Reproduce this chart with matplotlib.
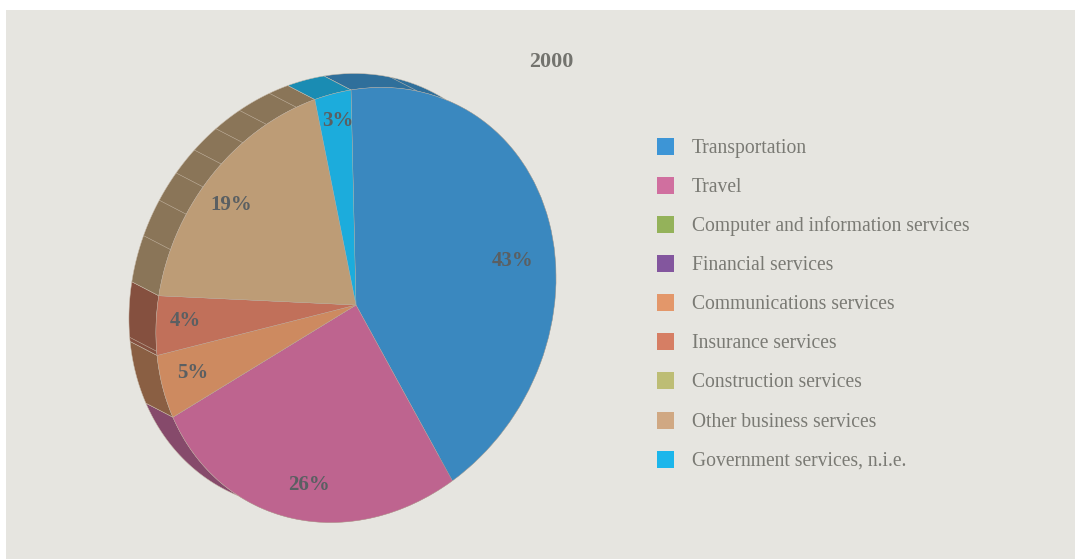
import numpy as np
import matplotlib
matplotlib.use('Agg')
import matplotlib.pyplot as plt
from matplotlib.patches import Rectangle, Polygon
from matplotlib.transforms import Affine2D

categories = ['Transportation', 'Travel', 'Computer and information services',
              'Financial services', 'Communications services', 'Insurance services',
              'Construction services', 'Other business services',
              'Government services, n.i.e.']
values = [42.4, 26.4, 0, 0, 4.9, 4.4, 0, 19.0, 2.9]
pct_labels = ['43%', '26%', '', '', '5%', '4%', '', '19%', '3%']
label_pos = [(513, 259), (309, 484), None, None, (193, 372), (185, 320), None, (231, 204), (338, 119)]

top_colors = ['#3A88BF', '#BE648F', '#86A052', '#75508E', '#CD8A60', '#C1705A', '#AAAA6A', '#BD9C76', '#1CACDC']
wall_colors = ['#2F6F9B', '#864A6B', '#5F7038', '#523864', '#8A5F43', '#85503F', '#777749', '#8A7558', '#1A8CB3']
legend_colors = ['#3D95D6', '#D06F9F', '#94B25A', '#83569E', '#E3976A', '#D67E64', '#BDBD75', '#D0A883', '#1CB6EB']
# extra seams in the side wall, as fractions of each slice
wall_seams = [[0.127], [], [], [], [], [0.07], [], [0.18, 0.325, 0.445, 0.555, 0.67, 0.785, 0.92], []]

plt.rcParams['font.family'] = ['Liberation Serif', 'DejaVu Serif']

fig = plt.figure(figsize=(10.75, 5.59), dpi=100, facecolor='white')
ax = fig.add_axes([0, 0, 1, 1])

# tilted pie: unit circle -> pixel coordinates
cx, cy = 356, 305
a, b, c, d = 200, -5, -33, -215
dx, dy = -27, -14
tilt = Affine2D(np.array([[a, b, cx], [c, d, cy], [0, 0, 1.0]]))


def rim(theta):
    return tilt.transform(np.column_stack([np.sin(theta), np.cos(theta)]))


wedges, _ = ax.pie(values, colors=top_colors, startangle=90, counterclock=False,
                   wedgeprops=dict(edgecolor='#B9A99A', linewidth=0.25))
ax.set_aspect('auto')
ax.set_xlim(0, 1075)
ax.set_ylim(559, 0)
ax.set_zorder(1)
ax.axis('off')

ax.add_patch(Rectangle((6, 10), 1069, 549, facecolor='#E6E5E0', edgecolor='none', zorder=0))

for w in wedges:
    w.set_transform(tilt + ax.transData)
    w.set_zorder(3)

# side wall behind the top face
edges = np.cumsum([0] + values) / 100 * 2 * np.pi
for i, v in enumerate(values):
    if v == 0:
        continue
    t = np.linspace(edges[i], edges[i + 1], 80)
    pts = rim(t)
    ax.add_patch(Polygon(np.vstack([pts, pts[::-1] + [dx, dy]]), closed=True,
                         facecolor=wall_colors[i], edgecolor='#C9BBAA', linewidth=0.35, zorder=2))
    for frac in wall_seams[i]:
        s = rim(np.array([edges[i] + frac * (edges[i + 1] - edges[i])]))[0]
        ax.plot([s[0], s[0] + dx], [s[1], s[1] + dy], color='#C9BBAA', lw=0.35, zorder=2.5)

for txt, pos in zip(pct_labels, label_pos):
    if pos is not None:
        ax.text(pos[0], pos[1] + 1.5, txt, fontsize=15, fontweight='bold', color='#5A5F62',
                ha='center', va='center', zorder=5)

ax.text(551, 62, '2000', fontsize=15.8, fontweight='bold', color='#73736E',
        ha='center', va='center', zorder=5)

for i, name in enumerate(categories):
    y = 146 + i * 39.15
    ax.add_patch(Rectangle((657, y - 8.5), 17, 17, facecolor=legend_colors[i], edgecolor='none', zorder=4))
    ax.text(692, y + 2, name, fontsize=14.15, color='#7A7A74', ha='left', va='center', zorder=5)

fig.savefig('out.png', dpi=100, facecolor='white')
